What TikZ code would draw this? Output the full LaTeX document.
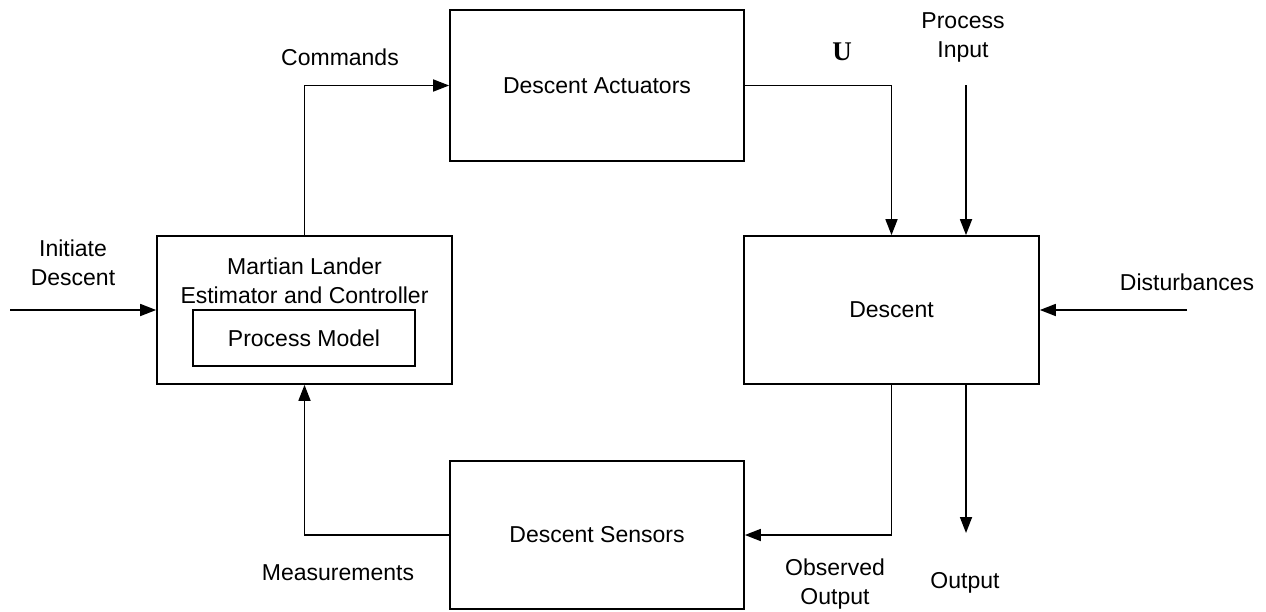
\documentclass[tikz,border=0pt]{standalone}
\usepackage{fontspec}
\setmainfont{Liberation Sans}
\newfontfamily\serifU{Liberation Serif}
\usetikzlibrary{arrows.meta}
\begin{document}
\begin{tikzpicture}[x=1pt,y=-1pt,
  blk/.style={draw,line width=1.7pt,minimum width=#1,inner sep=0pt},
  lbl/.style={align=center,font=\fontsize{23}{29}\selectfont,inner sep=0pt},
  arr/.style={line width=1.7pt,-{Triangle[length=16pt,width=12pt]}}]
\useasboundingbox (0,0) rectangle (1266,611);
% blocks
\node[blk=294pt,minimum height=151pt] (act) at (597,85.5) {};
\node[blk=295pt,minimum height=148pt] (ctrl) at (304.5,310) {};
\node[blk=222pt,minimum height=56pt] (pm) at (304,338) {};
\node[blk=295pt,minimum height=148pt] (desc) at (891.5,310) {};
\node[blk=294pt,minimum height=148pt] (sens) at (597,535) {};
% block texts
\node[lbl] (actT) at (597,86) {Descent Actuators};
\node[lbl] (ctrlT) at (304.5,281) {Martian Lander\\Estimator and Controller};
\node[lbl] (pmT) at (304,338) {Process Model};
\node[lbl] (descT) at (891.5,310) {Descent};
\node[lbl] (sensT) at (597,535) {Descent Sensors};
% free ends
\coordinate (init) at (10,310);
\coordinate (pin) at (966,85);
\coordinate (dist) at (1187,310);
\coordinate (outE) at (966,533);
% connectors
\draw[arr] (init) -- (ctrl.west);
\draw[arr] (ctrl.north) |- (act.west);
\draw[arr] (act.east) -| (desc.north);
\draw[arr] (pin) -- (pin |- desc.north);
\draw[arr] (dist) -- (desc.east);
\draw[arr] (outE |- desc.south) -- (outE);
\draw[arr] (desc.south) |- (sens.east);
\draw[arr] (sens.west) -| (ctrl.south);
% labels
\node[lbl] (lInit) at (73,263) {Initiate\\Descent};
\node[lbl] (lCmd) at (340,57) {Commands};
\node[lbl,font=\serifU\bfseries\fontsize{27}{29}\selectfont] (lU) at (842,52) {U};
\node[lbl] (lPin) at (963,37) {Process\\Input};
\node[lbl] (lDist) at (1187,282) {Disturbances};
\node[lbl] (lObs) at (835,584) {Observed\\Output};
\node[lbl] (lOut) at (965,583) {Output};
\node[lbl] (lMeas) at (338,573) {Measurements};
\end{tikzpicture}
\end{document}
